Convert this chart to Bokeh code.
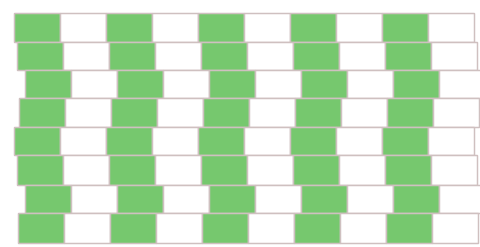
from bokeh.plotting import figure
from bokeh.models import Range1d, ColumnDataSource
from bokeh.embed import file_html
from bokeh.resources import INLINE

# Café-wall pattern: per-row horizontal shift of the tile sequence
row_offsets = [14, 17, 25, 19, 14, 17, 25, 18]
row_edges = [13, 42, 70, 98, 127, 155, 185, 213, 243]
tile_width = 46
tiles_per_row = 10
tile_colors = ["#76c86e", "#ffffff"]

left, right, top, bottom, fill = [], [], [], [], []
for r, off in enumerate(row_offsets):
    for k in range(tiles_per_row):
        x0 = off + k * tile_width
        left.append(x0)
        right.append(x0 + tile_width)
        top.append(row_edges[r])
        bottom.append(row_edges[r + 1])
        fill.append(tile_colors[k % 2])

src = ColumnDataSource(dict(left=left, right=right, top=top, bottom=bottom, fill=fill))

p = figure(width=480, height=247, output_backend="svg", toolbar_location=None,
           x_range=Range1d(0, 480), y_range=Range1d(247, 0), min_border=0)
p.quad(left="left", right="right", top="top", bottom="bottom", source=src,
       fill_color="fill", line_color="#cfc0c0", line_width=1.5)
p.axis.visible = False
p.grid.visible = False
p.outline_line_color = None
p.background_fill_color = "white"
p.border_fill_color = "white"

open("out.html", "w").write(file_html(p, INLINE))
